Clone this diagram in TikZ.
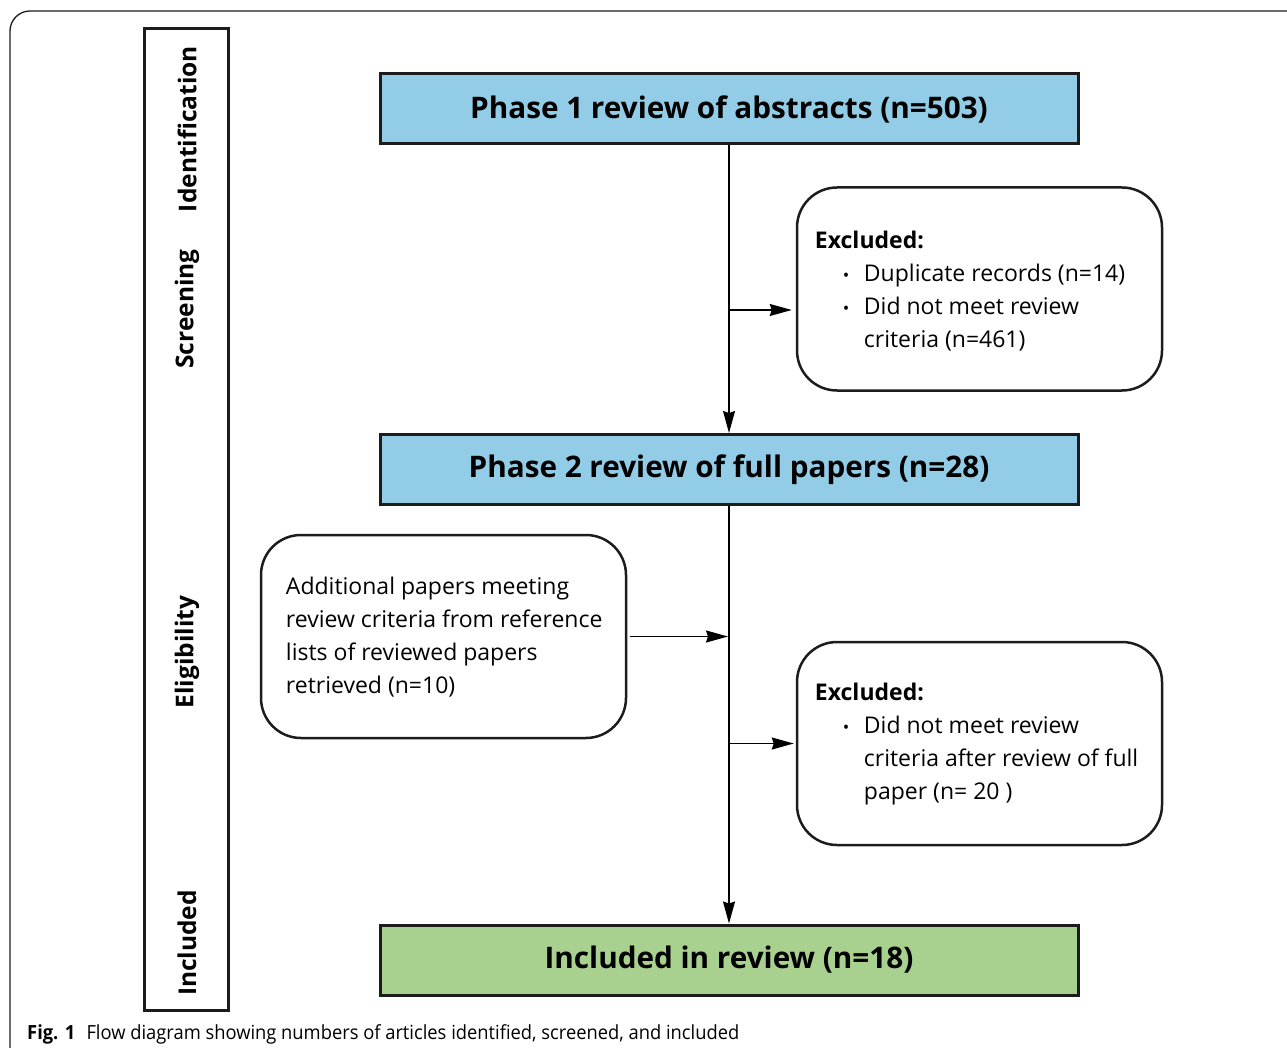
\documentclass[tikz,border=0pt]{standalone}
\usepackage{fontspec}
\setmainfont{Open Sans}
\usetikzlibrary{arrows.meta}
\definecolor{phaseblue}{HTML}{92CCE7}
\definecolor{phasegreen}{HTML}{A8D08E}
\definecolor{edge}{HTML}{1C1C1C}
\tikzset{
  phasebox/.style={draw=edge, line width=3pt, minimum width=698pt, minimum height=70pt, inner sep=0pt,
    font=\fontsize{29.7}{32}\selectfont\bfseries},
  roundbox/.style={draw=edge, line width=2.5pt, rounded corners=40pt, minimum width=365pt, minimum height=203pt,
    inner sep=0pt},
  boxtext/.style={anchor=west, inner sep=0pt, align=left, font=\fontsize{23}{33}\selectfont},
  stagelabel/.style={rotate=90, font=\fontsize{24.5}{27}\selectfont\bfseries, inner sep=0pt},
  flow/.style={line width=1.4pt, draw=black, -{Stealth[length=22pt,width=12pt,inset=2pt]}},
}
\newcommand{\bul}{\makebox[21pt][l]{\scalebox{0.75}{\textbullet}}}
\begin{document}
\begin{tikzpicture}[x=1pt,y=-1pt]
\useasboundingbox (0,0) rectangle (1287,1048);
% outer frame
\draw[line width=1.3pt, draw=edge, rounded corners=20pt] (10,1048) -- (10,11) -- (1287,11);
% stage bar
\node[draw=edge, line width=3pt, minimum width=84pt, minimum height=981pt, inner sep=0pt] (bar) at (186,519.5) {};
\node[stagelabel] (ident) at (187,129) {Identification};
\node[stagelabel] (screen) at (187,309) {Screening};
\node[stagelabel] (elig) at (187,652) {Eligibility};
\node[stagelabel] (incl) at (187,943) {Included};
% phase boxes
\node[phasebox, fill=phaseblue] (p1) at (729,109) {Phase 1 review of abstracts (n=503)};
\node[phasebox, fill=phaseblue] (p2) at (729,469.5) {Phase 2 review of full papers (n=28)};
\node[phasebox, fill=phasegreen] (inc) at (729,960) {Included in review (n=18)};
% side boxes
\node[roundbox] (ex1) at (979.5,289) {};
\node[boxtext] (ex1t) at ([xshift=19pt,yshift=-2pt]ex1.west) {\textbf{Excluded:}\\
  \hspace*{28pt}\bul Duplicate records (n=14)\\
  \hspace*{28pt}\bul Did not meet review\\
  \hspace*{49pt}criteria (n=461)};
\node[roundbox] (add) at (443.5,636.5) {};
\node[boxtext] (addt) at ([xshift=26pt,yshift=-1pt]add.west) {Additional papers meeting\\
  review criteria from reference\\
  lists of reviewed papers\\
  retrieved (n=10)};
\node[roundbox] (ex2) at (979.5,743.5) {};
\node[boxtext] (ex2t) at ([xshift=19pt,yshift=-1pt]ex2.west) {\textbf{Excluded:}\\
  \hspace*{28pt}\bul Did not meet review\\
  \hspace*{49pt}criteria after review of full\\
  \hspace*{49pt}paper (n= 20 )};
% connectors
\draw[flow] (p1.south) -- (p2.north);
\coordinate (j1) at (730,310);
\draw[flow, shorten >=4pt] (j1) -- (j1 -| ex1.west);
\draw[flow] (p2.south) -- (inc.north);
\draw[flow, shorten <=3pt, shorten >=1pt] (add.east) -- (add.east -| p2.south);
\draw[flow, shorten >=2pt] (ex2.west -| p2.south) -- (ex2.west);
% caption
\node[anchor=base west, inner sep=0pt] (cap) at (27,1039) {\fontsize{19.5}{22}\selectfont\scalebox{0.94}[1]{\textbf{Fig. 1}\hspace{12pt}Flow diagram showing numbers of articles identified, screened, and included}};
\end{tikzpicture}
\end{document}
